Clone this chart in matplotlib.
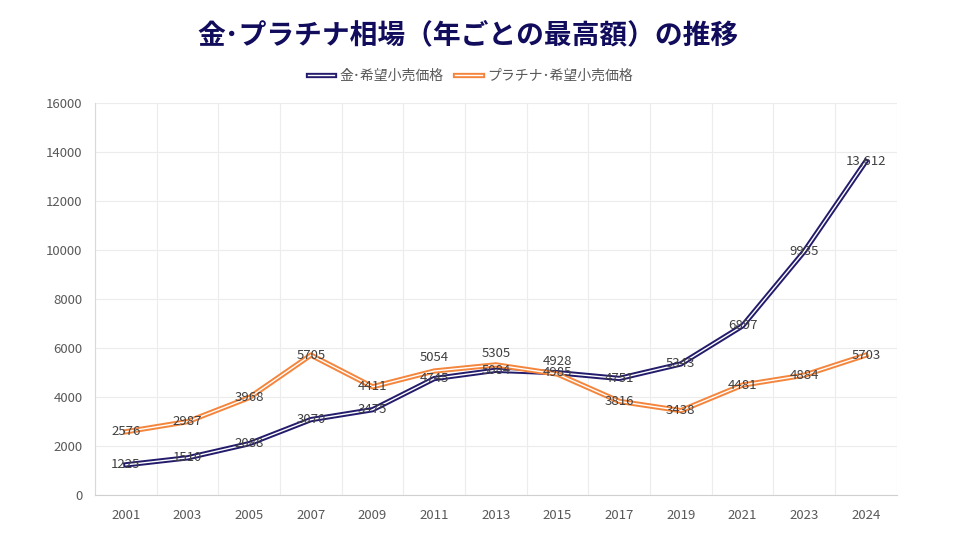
import matplotlib.pyplot as plt
import matplotlib.patheffects as pe

plt.rcParams['font.family'] = ['Noto Sans CJK JP', 'DejaVu Sans']

years = ['2001', '2003', '2005', '2007', '2009', '2011', '2013',
         '2015', '2017', '2019', '2021', '2023', '2024']
gold = [1225, 1510, 2088, 3070, 3475, 4745, 5084, 4985, 4751, 5343, 6897, 9935, 13612]
platinum = [2576, 2987, 3968, 5705, 4411, 5054, 5305, 4928, 3816, 3438, 4481, 4884, 5703]
gold_labels = [str(v) for v in gold[:-1]] + ['13,612']
plat_labels = [str(v) for v in platinum]

names = ['金･希望小売価格', 'プラチナ･希望小売価格']
colors = ['#231b6b', '#f4853c']

# label nudges (points, upward) so crowded labels sit above the line
gold_dy = [0] * len(years)
plat_dy = [0, 0, 0, 0, 0, 10, 8, 9, 0, 0, 0, 0, 0]

fig = plt.figure(figsize=(9.8, 5.56), dpi=100)
ax = fig.add_axes([0.097, 0.11, 0.818, 0.705])

x = list(range(len(years)))
for vals, labels, dys, name, c in [(gold, gold_labels, gold_dy, names[0], colors[0]),
                                   (platinum, plat_labels, plat_dy, names[1], colors[1])]:
    ax.plot(x, vals, color='white', lw=1.0, label=name, zorder=3,
            path_effects=[pe.Stroke(linewidth=3.8, foreground=c), pe.Normal()])
    for xi, v, t, dy in zip(x, vals, labels, dys):
        ax.annotate(t, (xi, v), xytext=(0, dy), textcoords='offset points',
                    ha='center', va='center', fontsize=9.5, color='#404040', zorder=4)

ax.set_xlim(-0.5, len(years) - 0.5)
ax.set_ylim(0, 16000)
ax.set_yticks(range(0, 16001, 2000))
ax.set_xticks(x)
ax.set_xticklabels(years)
ax.set_xticks([i - 0.5 for i in range(len(years) + 1)], minor=True)
ax.tick_params(axis='both', which='both', length=0, labelsize=9.5, colors='#595959')
ax.tick_params(axis='x', pad=10)
ax.tick_params(axis='y', pad=9)
ax.grid(axis='y', color='#ececec', lw=0.8)
ax.grid(axis='x', which='minor', color='#ececec', lw=0.8)
ax.set_axisbelow(True)
for s in ['top', 'right']:
    ax.spines[s].set_visible(False)
ax.spines['left'].set_color('#d9d9d9')
ax.spines['bottom'].set_color('#d0d0d0')

fig.text(0.477, 0.937, '金･プラチナ相場（年ごとの最高額）の推移', ha='center', va='center',
         fontsize=20, fontweight='bold', color='#110c5c')
fig.legend(loc='center', bbox_to_anchor=(0.48, 0.863), ncol=2, frameon=False,
           fontsize=10, labelcolor='#595959', handlelength=1.9, handletextpad=0.4,
           columnspacing=0.8)

fig.savefig('out.png', dpi=100)
